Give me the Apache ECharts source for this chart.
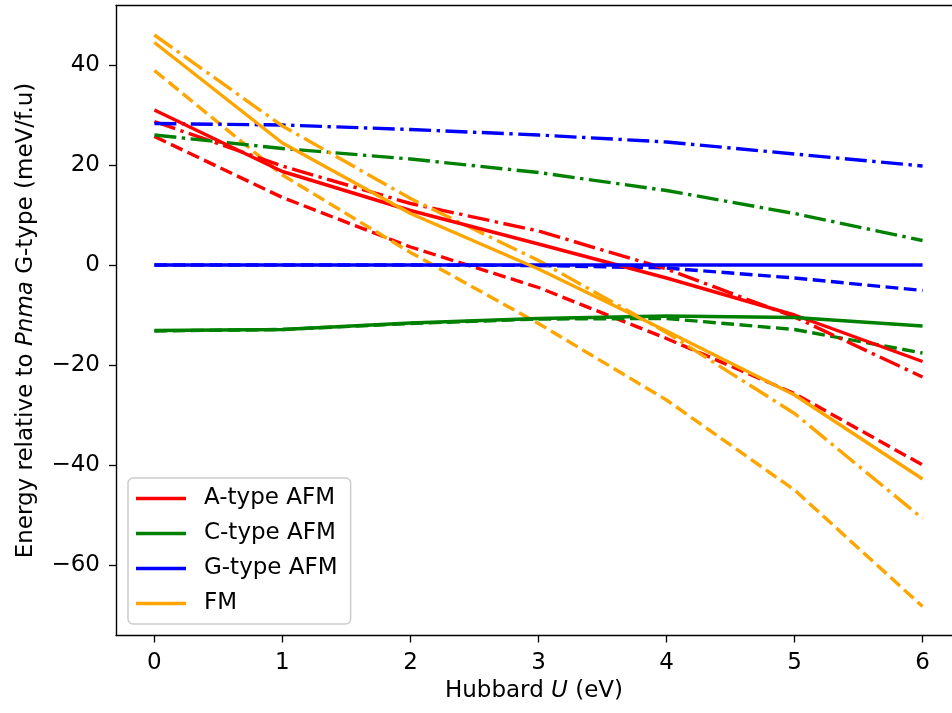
<!DOCTYPE html>
<html>
<head>
<meta charset="utf-8">
<script src="https://cdn.jsdelivr.net/npm/echarts@6/dist/echarts.min.js"></script>
<style>html,body{margin:0;padding:0;background:#fff;}#c{width:952px;height:713px;}</style>
</head>
<body>
<div id="c"></div>
<script>
// Data
var U = [0, 1, 2, 3, 4, 5, 6];
var xTicks = [0, 1, 2, 3, 4, 5, 6];
var yTicks = [-60, -40, -20, 0, 20, 40];

var A_solid   = [31.0, 18.7, 10.9, 4.2, -2.6, -10.0, -19.3];
var A_dashed  = [25.7, 13.5, 3.6, -4.5, -14.7, -25.7, -40.0];
var A_dashdot = [28.7, 19.8, 12.3, 6.8, -0.8, -10.4, -22.4];

var C_solid   = [-13.1, -12.9, -11.6, -10.7, -10.2, -10.5, -12.2];
var C_dashed  = [-13.2, -12.9, -11.7, -10.8, -10.7, -12.9, -17.6];
var C_dashdot = [26.0, 23.3, 21.2, 18.5, 14.9, 10.3, 4.9];

var G_solid   = [0, 0, 0, 0, 0, 0, 0];
var G_dashed  = [0, 0, 0, -0.1, -0.6, -2.6, -5.1];
var G_dashdot = [28.3, 28.0, 27.1, 26.0, 24.6, 22.2, 19.8];

var FM_solid   = [44.5, 24.4, 10.3, -0.8, -13.2, -26.0, -42.8];
var FM_dashed  = [38.9, 18.0, 2.5, -11.7, -27.0, -45.0, -68.3];
var FM_dashdot = [46.0, 27.8, 13.3, 0.9, -13.5, -29.7, -50.7];

var names = ['A-type AFM', 'C-type AFM', 'G-type AFM', 'FM'];
var colors = ['#ff0000', '#008000', '#0000ff', '#ffa500'];

var LW = 3.4;
var DASHED = [12.8, 5.5];
var DASHDOT = [22, 5.5, 3.4, 5.5];

function pairs(arr) { return U.map(function (u, i) { return [u, arr[i]]; }); }
function mk(name, color, data, type, z) {
  return {
    name: name, type: 'line', data: pairs(data), symbol: 'none', showSymbol: false,
    animation: false, z: z, silent: true, xAxisIndex: 0, yAxisIndex: 0,
    lineStyle: { color: color, width: LW, type: type, cap: 'butt', join: 'round' },
    itemStyle: { color: color }
  };
}

var groups = [
  [A_solid, A_dashed, A_dashdot],
  [C_solid, C_dashed, C_dashdot],
  [G_solid, G_dashed, G_dashdot],
  [FM_solid, FM_dashed, FM_dashdot]
];

var series = [];
for (var i = 0; i < 4; i++) series.push(mk(names[i] + ' (dashed)', colors[i], groups[i][1], DASHED, 2));
for (var i = 0; i < 4; i++) series.push(mk(names[i] + ' (dashdot)', colors[i], groups[i][2], DASHDOT, 3));
for (var i = 0; i < 4; i++) series.push(mk(names[i], colors[i], groups[i][0], 'solid', 4));

function minus(v) { return String(v).replace('-', '\u2212'); }

var FONT = 'DejaVu Sans';
var FS = 23;
var XMIN = -0.3, XMAX = 6.23, YMIN = -74.1, YMAX = 51.9;

var chart = echarts.init(document.getElementById('c'), null, { renderer: 'canvas' });
chart.setOption({
  animation: false,
  backgroundColor: '#ffffff',
  textStyle: { fontFamily: FONT },
  grid: { left: 116, top: 5.5, right: 0, bottom: 77.5, show: false },
  legend: {
    data: names,
    orient: 'vertical',
    left: 128, top: 478,
    padding: [9, 13, 9, 8],
    itemWidth: 50, itemHeight: 3.4, itemGap: 12,
    backgroundColor: 'rgba(255,255,255,0.8)',
    borderColor: '#cccccc', borderWidth: 1.5, borderRadius: 5,
    icon: 'rect',
    itemStyle: { borderWidth: 0 },
    textStyle: { fontFamily: FONT, fontSize: FS, color: '#000', lineHeight: 23, padding: [0, 0, 0, 13] },
    selectedMode: false
  },
  xAxis: [{
    type: 'value', min: XMIN, max: XMAX, position: 'bottom',
    name: 'Hubbard {i|U} (eV)', nameLocation: 'middle', nameGap: 40,
    nameTextStyle: { fontFamily: FONT, fontSize: FS, color: '#000',
      rich: { i: { fontFamily: FONT, fontSize: FS, fontStyle: 'italic', color: '#000' } } },
    axisLine: { show: true, onZero: false, lineStyle: { color: '#000', width: 1.4 } },
    splitLine: { show: false },
    axisTick: { show: true, customValues: xTicks, length: 7, inside: false, lineStyle: { color: '#000', width: 1.3 } },
    axisLabel: { customValues: xTicks, margin: 16, fontFamily: FONT, fontSize: FS, color: '#000',
      formatter: function (v) { return minus(v); } }
  }, {
    type: 'value', min: XMIN, max: XMAX, position: 'top',
    axisLine: { show: true, onZero: false, lineStyle: { color: '#000', width: 1.4 } },
    axisTick: { show: false }, axisLabel: { show: false }, splitLine: { show: false }
  }],
  yAxis: {
    type: 'value', min: YMIN, max: YMAX,
    name: 'Energy relative to {i|Pnma} G-type (meV/f.u)', nameLocation: 'middle', nameGap: 78, nameRotate: 90,
    nameTextStyle: { fontFamily: FONT, fontSize: FS, color: '#000',
      rich: { i: { fontFamily: FONT, fontSize: FS, fontStyle: 'italic', color: '#000' } } },
    axisLine: { show: true, onZero: false, lineStyle: { color: '#000', width: 1.4 } },
    splitLine: { show: false },
    axisTick: { show: true, customValues: yTicks, length: 7, inside: false, lineStyle: { color: '#000', width: 1.3 } },
    axisLabel: { customValues: yTicks, margin: 16, fontFamily: FONT, fontSize: FS, color: '#000',
      formatter: function (v) { return minus(v); } }
  },
  series: series
});
</script>
</body>
</html>
